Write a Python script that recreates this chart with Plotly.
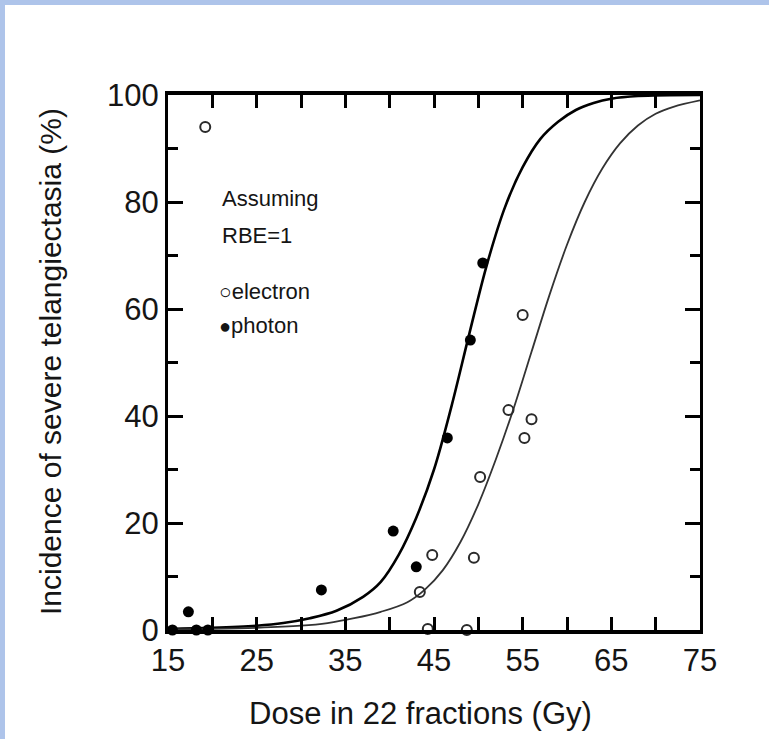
import plotly.graph_objects as go

# ---- data ----
photon_dose = [15.5, 17.3, 18.2, 19.5, 32.3, 40.4, 43.0, 46.5, 49.1, 50.5]
photon_inc = [0.0, 3.4, 0.0, 0.0, 7.5, 18.5, 11.8, 35.9, 54.2, 68.6]

electron_dose = [19.2, 43.4, 44.3, 44.8, 48.7, 49.5, 50.2, 53.4, 55.0, 55.2, 56.0]
electron_inc = [94.0, 7.1, 0.2, 14.0, 0.0, 13.5, 28.6, 41.1, 58.9, 35.9, 39.4]

# fitted curves, points
photon_fit_x = [15, 20, 25, 28, 31, 34, 37, 39, 41, 43, 45, 47, 49, 51, 53, 55, 57, 59, 61, 63, 65, 68, 75]
photon_fit_y = [0.2, 0.4, 0.8, 1.3, 2.2, 3.6, 6.2, 9.0, 14.0, 21.0, 30.0, 42.0, 55.5, 68.5, 79.0, 86.5, 91.8, 95.0, 97.2, 98.5, 99.3, 99.8, 100.0]

electron_fit_x = [15, 20, 25, 30, 33, 36, 39, 42, 44, 46, 48, 50, 52, 54, 56, 58, 60, 62, 64, 66, 68, 70, 72, 75]
electron_fit_y = [0.1, 0.2, 0.4, 0.8, 1.3, 2.2, 3.4, 5.2, 7.6, 11.2, 16.5, 23.5, 32.0, 41.5, 52.0, 62.5, 72.0, 80.0, 86.3, 91.0, 94.3, 96.5, 97.8, 99.0]

x_ticks = [15, 25, 35, 45, 55, 65, 75]
y_ticks = [0, 20, 40, 60, 80, 100]

FONT = "Liberation Sans, Arial, sans-serif"
INK = "#151515"

fig = go.Figure()

fig.add_trace(go.Scatter(x=photon_fit_x, y=photon_fit_y, mode="lines",
                         line=dict(color="#000000", width=2.6, shape="spline", smoothing=1.0),
                         showlegend=False, hoverinfo="skip"))
fig.add_trace(go.Scatter(x=electron_fit_x, y=electron_fit_y, mode="lines",
                         line=dict(color="#333333", width=1.8, shape="spline", smoothing=1.0),
                         showlegend=False, hoverinfo="skip"))
fig.add_trace(go.Scatter(x=photon_dose, y=photon_inc, mode="markers", name="photon",
                         marker=dict(symbol="circle", size=11, color="#000000"),
                         cliponaxis=False, showlegend=False))
fig.add_trace(go.Scatter(x=electron_dose, y=electron_inc, mode="markers", name="electron",
                         marker=dict(symbol="circle-open", size=10, color="#2a2a2a",
                                     line=dict(width=2)),
                         cliponaxis=False, showlegend=False))

fig.update_xaxes(range=[15, 75], tickmode="array", tickvals=x_ticks,
                 ticktext=[str(v) for v in x_ticks],
                 ticks="inside", ticklen=13, tickwidth=2.5, tickcolor="#000",
                 minor=dict(dtick=5, tick0=15, ticks="inside", ticklen=13, tickwidth=2.5, tickcolor="#000"),
                 showline=True, linewidth=3.5, linecolor="#000", mirror="ticks",
                 showgrid=False, zeroline=False,
                 tickfont=dict(family=FONT, size=31, color=INK))
fig.update_yaxes(range=[0, 100], tickmode="array", tickvals=y_ticks,
                 ticktext=[str(v) for v in y_ticks],
                 ticks="inside", ticklen=15, tickwidth=2.5, tickcolor="#000",
                 minor=dict(dtick=10, ticks="inside", ticklen=10, tickwidth=2.5, tickcolor="#000"),
                 showline=True, linewidth=3, linecolor="#000", mirror="ticks",
                 showgrid=False, zeroline=False,
                 tickfont=dict(family=FONT, size=31, color=INK))

annotations = [
    dict(x=20.9, y=80.7, xref="x", yref="y", text="Assuming", showarrow=False,
         xanchor="left", yanchor="middle", font=dict(family=FONT, size=22, color=INK)),
    dict(x=20.9, y=73.8, xref="x", yref="y", text="RBE=1", showarrow=False,
         xanchor="left", yanchor="middle", font=dict(family=FONT, size=22, color=INK)),
    dict(x=20.5, y=63.2, xref="x", yref="y",
         text="<span style='font-size:21px'>○</span>electron", showarrow=False,
         xanchor="left", yanchor="middle", font=dict(family=FONT, size=22, color=INK)),
    dict(x=20.5, y=57.0, xref="x", yref="y",
         text="<span style='font-size:20px'>●</span>photon", showarrow=False,
         xanchor="left", yanchor="middle", font=dict(family=FONT, size=22, color=INK)),
    dict(x=(420 - 168) / 532, y=(630 - 713) / 535, xref="paper", yref="paper",
         text="Dose in 22 fractions (Gy)", showarrow=False,
         xanchor="center", yanchor="middle", font=dict(family=FONT, size=31, color=INK)),
    dict(x=(50 - 168) / 532, y=(630 - 362) / 535, xref="paper", yref="paper",
         text="Incidence of severe telangiectasia (%)", showarrow=False, textangle=-90,
         xanchor="center", yanchor="middle", font=dict(family=FONT, size=30, color=INK)),
]

BLUE = "#aec4ea"
shapes = [
    dict(type="rect", xref="paper", yref="paper", x0=-168 / 532, x1=(769 - 168) / 532,
         y0=(630 - 5) / 535, y1=630 / 535, fillcolor=BLUE, line=dict(width=0), layer="below"),
    dict(type="rect", xref="paper", yref="paper", x0=-168 / 532, x1=-163 / 532,
         y0=(630 - 739) / 535, y1=630 / 535, fillcolor=BLUE, line=dict(width=0), layer="below"),
]

fig.update_layout(width=769, height=739, margin=dict(l=168, r=69, t=95, b=109),
                  paper_bgcolor="white", plot_bgcolor="white",
                  annotations=annotations, shapes=shapes, showlegend=False)

fig.write_html("out.html")
